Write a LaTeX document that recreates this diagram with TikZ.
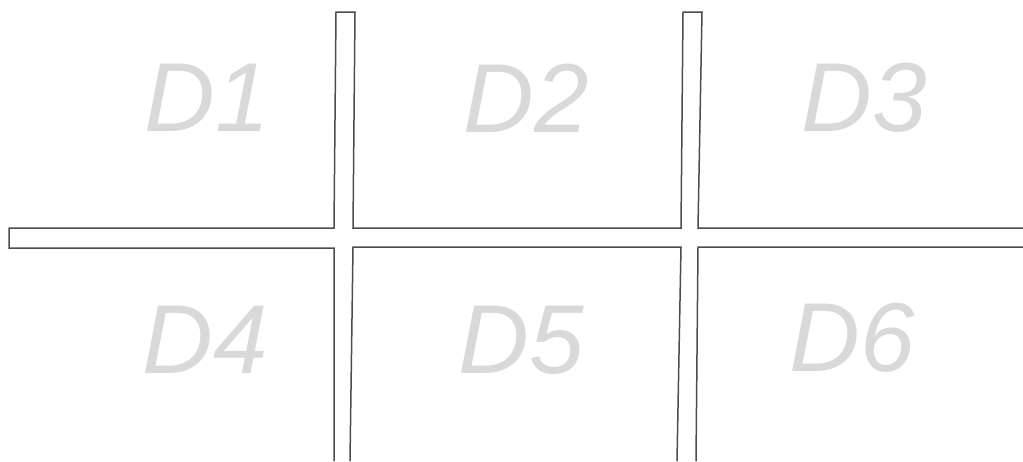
\documentclass[tikz,border=0pt]{standalone}
\usepackage{fontspec}
\setmainfont{Liberation Sans}
\begin{document}
\begin{tikzpicture}[x=1pt,y=-1pt,
  wall/.style={draw=black!70,line width=1.5pt,line join=miter},
  lab/.style={text=black!15,font=\fontsize{98}{98}\selectfont\itshape,inner sep=0pt,anchor=center}]
\useasboundingbox (0,0) rectangle (1023,461);
% walls
\draw[wall] (334,461) -- (334,248) -- (9,248) -- (9,228) -- (334,228) -- (336,12) -- (355,12) -- (353,228) -- (681,228) -- (683,12) -- (702,12) -- (698,228) -- (1023,228);
\draw[wall] (1023,247) -- (698,247) -- (696,461);
\draw[wall] (677,461) -- (681,247) -- (353,247) -- (350,461);
% labels
\node[lab] (d1) at (207,98) {D1};
\node[lab] (d2) at (526,98) {D2};
\node[lab] (d3) at (864,98) {D3};
\node[lab] (d4) at (205,340) {D4};
\node[lab] (d5) at (521,340) {D5};
\node[lab] (d6) at (852,338) {D6};
\end{tikzpicture}
\end{document}
